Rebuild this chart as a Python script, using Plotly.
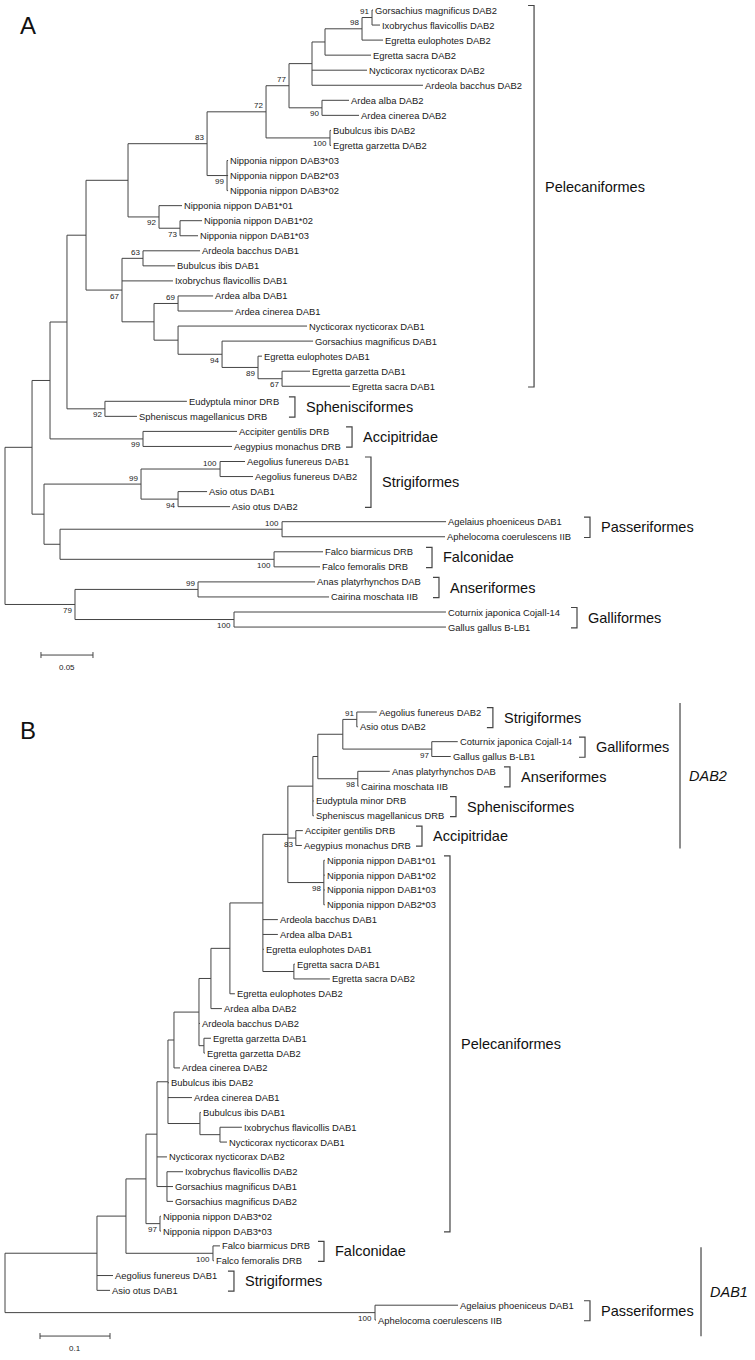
import plotly.graph_objects as go

# ======================= DATA =======================
# Panel A: neighbour-joining tree, branches as (node, parent, length in substitutions/site)
A_BRANCHES = [
    ("a1", "R", 0.026), ("a2", "a1", 0.0173), ("a3", "a2", 0.0163), ("a4", "a3", 0.0183),
    ("a5", "a4", 0.0404), ("a6", "a5", 0.076), ("a7", "a6", 0.0567), ("a8", "a7", 0.0221),
    ("a9", "a8", 0.0221), ("a10", "a9", 0.0125), ("a11", "a10", 0.0356), ("a12", "a11", 0.0096),
    ("Gorsachius magnificus DAB2", "a12", 0.001), ("Ixobrychus flavicollis DAB2", "a12", 0.0077),
    ("Egretta eulophotes DAB2", "a11", 0.0202), ("Egretta sacra DAB2", "a10", 0.0442),
    ("Nycticorax nycticorax DAB2", "a9", 0.0529), ("Ardeola bacchus DAB2", "a9", 0.1067),
    ("a13", "a8", 0.0317), ("Ardea alba DAB2", "a13", 0.026), ("Ardea cinerea DAB2", "a13", 0.0356),
    ("a14", "a7", 0.0615), ("Bubulcus ibis DAB2", "a14", 0.001), ("Egretta garzetta DAB2", "a14", 0.001),
    ("a15", "a6", 0.0192), ("Nipponia nippon DAB3*03", "a15", 0.001),
    ("Nipponia nippon DAB2*03", "a15", 0.001), ("Nipponia nippon DAB3*02", "a15", 0.001),
    ("a16", "a5", 0.0298), ("Nipponia nippon DAB1*01", "a16", 0.0221), ("a17", "a16", 0.0202),
    ("Nipponia nippon DAB1*02", "a17", 0.0212), ("Nipponia nippon DAB1*03", "a17", 0.0173),
    ("a18", "a4", 0.0346), ("a19", "a18", 0.0202), ("Ardeola bacchus DAB1", "a19", 0.0548),
    ("Bubulcus ibis DAB1", "a19", 0.0308), ("Ixobrychus flavicollis DAB1", "a18", 0.049),
    ("a20", "a18", 0.0308), ("a21", "a20", 0.0231), ("Ardea alba DAB1", "a21", 0.0337),
    ("Ardea cinerea DAB1", "a21", 0.0529), ("a22", "a20", 0.0231),
    ("Nycticorax nycticorax DAB1", "a22", 0.124), ("a23", "a22", 0.0423),
    ("Gorsachius magnificus DAB1", "a23", 0.0875), ("a24", "a23", 0.0346),
    ("Egretta eulophotes DAB1", "a24", 0.0038), ("a25", "a24", 0.0231),
    ("Egretta garzetta DAB1", "a25", 0.0269), ("Egretta sacra DAB1", "a25", 0.0654),
    ("a26", "a3", 0.0365), ("Eudyptula minor DRB", "a26", 0.0788),
    ("Spheniscus magellanicus DRB", "a26", 0.0308),
    ("a27", "a2", 0.0894), ("Accipiter gentilis DRB", "a27", 0.0904), ("Aegypius monachus DRB", "a27", 0.0856),
    ("a28", "a1", 0.0115), ("a29", "a28", 0.0933), ("a30", "a29", 0.076),
    ("Aegolius funereus DAB1", "a30", 0.024), ("Aegolius funereus DAB2", "a30", 0.0317),
    ("a31", "a29", 0.0356), ("Asio otus DAB1", "a31", 0.0279), ("Asio otus DAB2", "a31", 0.05),
    ("a32", "a28", 0.0154), ("a33", "a32", 0.2135), ("Agelaius phoeniceus DAB1", "a33", 0.1577),
    ("Aphelocoma coerulescens IIB", "a33", 0.1567), ("a34", "a32", 0.2058),
    ("Falco biarmicus DRB", "a34", 0.0471), ("Falco femoralis DRB", "a34", 0.0442),
    ("a35", "R", 0.0673), ("a36", "a35", 0.1183), ("Anas platyrhynchos DAB", "a36", 0.1125),
    ("Cairina moschata IIB", "a36", 0.126), ("a37", "a35", 0.1529),
    ("Coturnix japonica Cojall-14", "a37", 0.2038), ("Gallus gallus B-LB1", "a37", 0.2038),
]
A_SUPPORT_NODES = ["a6", "a7", "a8", "a11", "a12", "a13", "a14", "a15", "a16", "a17", "a18", "a19",
                   "a21", "a23", "a24", "a25", "a26", "a27", "a29", "a30", "a31", "a33", "a34",
                   "a35", "a36", "a37"]
A_SUPPORT_VALUES = [83, 72, 77, 98, 91, 90, 100, 99, 92, 73, 67, 63,
                    69, 94, 89, 67, 92, 99, 99, 100, 94, 100, 100,
                    79, 99, 100]
A_CLADES = [
    ("Pelecaniformes", "Gorsachius magnificus DAB2", "Egretta sacra DAB1"),
    ("Sphenisciformes", "Eudyptula minor DRB", "Spheniscus magellanicus DRB"),
    ("Accipitridae", "Accipiter gentilis DRB", "Aegypius monachus DRB"),
    ("Strigiformes", "Aegolius funereus DAB1", "Asio otus DAB2"),
    ("Passeriformes", "Agelaius phoeniceus DAB1", "Aphelocoma coerulescens IIB"),
    ("Falconidae", "Falco biarmicus DRB", "Falco femoralis DRB"),
    ("Anseriformes", "Anas platyrhynchos DAB", "Cairina moschata IIB"),
    ("Galliformes", "Coturnix japonica Cojall-14", "Gallus gallus B-LB1"),
]
A_SCALE = 0.05

# Panel B
B_BRANCHES = [
    ("b1", "R", 0.1314), ("b2", "b1", 0.0414), ("b3", "b2", 0.0286), ("b4", "b3", 0.0157),
    ("b5", "b4", 0.0157), ("b6", "b5", 0.0086), ("b7", "b6", 0.0357), ("b8", "b7", 0.0171),
    ("b9", "b8", 0.0271), ("b10", "b9", 0.0471), ("b11", "b10", 0.0357), ("b12", "b11", 0.0357),
    ("b13", "b12", 0.0071), ("b14", "b13", 0.0357), ("b15", "b14", 0.02),
    ("Aegolius funereus DAB2", "b15", 0.0286), ("Asio otus DAB2", "b15", 0.0014),
    ("b16", "b14", 0.1271), ("Coturnix japonica Cojall-14", "b16", 0.0371),
    ("Gallus gallus B-LB1", "b16", 0.0271),
    ("b17", "b13", 0.0571), ("Anas platyrhynchos DAB", "b17", 0.0457), ("Cairina moschata IIB", "b17", 0.0014),
    ("Eudyptula minor DRB", "b12", 0.0014), ("Spheniscus magellanicus DRB", "b12", 0.0014),
    ("b18", "b11", 0.0114), ("Accipiter gentilis DRB", "b18", 0.01), ("Aegypius monachus DRB", "b18", 0.0086),
    ("b19", "b11", 0.0514), ("Nipponia nippon DAB1*01", "b19", 0.0014),
    ("Nipponia nippon DAB1*02", "b19", 0.0014), ("Nipponia nippon DAB1*03", "b19", 0.0014),
    ("Nipponia nippon DAB2*03", "b19", 0.0014),
    ("Ardeola bacchus DAB1", "b10", 0.0214), ("Ardea alba DAB1", "b10", 0.0214),
    ("Egretta eulophotes DAB1", "b10", 0.0014), ("b20", "b10", 0.0443),
    ("Egretta sacra DAB1", "b20", 0.0014), ("Egretta sacra DAB2", "b20", 0.0514),
    ("Egretta eulophotes DAB2", "b9", 0.0071), ("Ardea alba DAB2", "b8", 0.0157),
    ("Ardeola bacchus DAB2", "b7", 0.0014), ("b21", "b7", 0.0071),
    ("Egretta garzetta DAB1", "b21", 0.01), ("Egretta garzetta DAB2", "b21", 0.0014),
    ("Ardea cinerea DAB2", "b6", 0.0086), ("Bubulcus ibis DAB2", "b5", 0.0014),
    ("Ardea cinerea DAB1", "b5", 0.0343), ("b22", "b5", 0.0457),
    ("Bubulcus ibis DAB1", "b22", 0.0014), ("b23", "b22", 0.0286),
    ("Ixobrychus flavicollis DAB1", "b23", 0.0314), ("Nycticorax nycticorax DAB1", "b23", 0.01),
    ("Nycticorax nycticorax DAB2", "b4", 0.0143), ("b24", "b4", 0.0143),
    ("Ixobrychus flavicollis DAB2", "b24", 0.0229), ("Gorsachius magnificus DAB1", "b24", 0.0086),
    ("Gorsachius magnificus DAB2", "b24", 0.0086),
    ("b25", "b3", 0.02), ("Nipponia nippon DAB3*02", "b25", 0.0014), ("Nipponia nippon DAB3*03", "b25", 0.0014),
    ("b26", "b2", 0.1243), ("Falco biarmicus DRB", "b26", 0.01), ("Falco femoralis DRB", "b26", 0.0014),
    ("Aegolius funereus DAB1", "b1", 0.0229), ("Asio otus DAB1", "b1", 0.0186),
    ("b27", "R", 0.5286), ("Agelaius phoeniceus DAB1", "b27", 0.1186),
    ("Aphelocoma coerulescens IIB", "b27", 0.0014),
]
B_SUPPORT_NODES = ["b15", "b16", "b17", "b18", "b19", "b25", "b26", "b27"]
B_SUPPORT_VALUES = [91, 97, 98, 83, 98, 97, 100, 100]
B_CLADES = [
    ("Strigiformes", "Aegolius funereus DAB2", "Asio otus DAB2"),
    ("Galliformes", "Coturnix japonica Cojall-14", "Gallus gallus B-LB1"),
    ("Anseriformes", "Anas platyrhynchos DAB", "Cairina moschata IIB"),
    ("Sphenisciformes", "Eudyptula minor DRB", "Spheniscus magellanicus DRB"),
    ("Accipitridae", "Accipiter gentilis DRB", "Aegypius monachus DRB"),
    ("Pelecaniformes", "Nipponia nippon DAB1*01", "Nipponia nippon DAB3*03"),
    ("Falconidae", "Falco biarmicus DRB", "Falco femoralis DRB"),
    ("Strigiformes", "Aegolius funereus DAB1", "Asio otus DAB1"),
    ("Passeriformes", "Agelaius phoeniceus DAB1", "Aphelocoma coerulescens IIB"),
]
B_GROUPS = [
    ("DAB2", "Aegolius funereus DAB2", "Aegypius monachus DRB"),
    ("DAB1", "Falco biarmicus DRB", "Aphelocoma coerulescens IIB"),
]
B_SCALE = 0.1

# ======================= STYLE / LAYOUT =======================
W, H = 755, 1360
FONT = "Arial, Liberation Sans, sans-serif"
LINE = "#444444"
TXT = "#1a1a1a"
LEAF_FS = 9.4
BOOT_FS = 8
CLADE_FS = 14.5

PANELS = {
    "A": dict(ppu=1040.0, root_px=5.0, row_px=15.05, first_row_px=10.0, top_px=0, h_px=680,
              xa="x", ya="y"),
    "B": dict(ppu=700.0, root_px=5.0, row_px=14.83, first_row_px=32.0, top_px=680, h_px=680,
              xa="x2", ya="y2"),
}
A_SUPPORT_ABOVE = [1, 1, 1, 1, 1, 0, 0, 0, 0, 0, 0, 1, 1, 0, 0, 0, 0, 0, 1, 1, 0, 1, 0, 0, 1, 0]
B_SUPPORT_ABOVE = [1, 0, 0, 0, 0, 0, 0, 0]
A_CLADE_X = [0.5087, 0.2788, 0.3337, 0.3519, 0.5625, 0.4106, 0.4173, 0.55]
A_CLADE_LABEL_DY = [-0.6, 0, 0, 0, 0, 0, 0, 0]
B_CLADE_X = [0.697, 0.8286, 0.7214, 0.6443, 0.5957, 0.6357, 0.4557, 0.3271, 0.8357]
B_GROUP_X = [0.9643, 0.9943]
B_GROUP_PAD = [(-0.6, 0.2), (0.1, 1.1)]
A_SCALE_POS = (0.0346, 42.86)
B_SCALE_POS = (0.05, 42.08)


def layout_tree(branches):
    children, length = {}, {}
    for c, p, l in branches:
        children.setdefault(p, []).append(c)
        length[c] = l
    x, y, leaves = {"R": 0.0}, {}, []

    def walk(n):
        kids = children.get(n, [])
        for k in kids:
            x[k] = x[n] + length[k]
            walk(k)
        if kids:
            y[n] = (y[kids[0]] + y[kids[-1]]) / 2.0
        else:
            y[n] = float(len(leaves))
            leaves.append(n)

    walk("R")
    return x, y, leaves, children


fig = go.Figure()
annotations = []
shapes = []


def add_panel(key, branches, sup_nodes, sup_vals, sup_above, clades, clade_x, clade_dy,
              scale_len, scale_pos, groups=None, group_x=None, group_pad=None):
    P = PANELS[key]
    xa, ya = P["xa"], P["ya"]
    x, y, leaves, children = layout_tree(branches)
    xs, ys = [], []
    for n, kids in children.items():
        xs += [x[n], x[n], None]
        ys += [y[kids[0]], y[kids[-1]], None]
        for k in kids:
            xs += [x[n], x[k], None]
            ys += [y[k], y[k], None]
    fig.add_trace(go.Scatter(x=xs, y=ys, mode="lines", xaxis=xa, yaxis=ya,
                             line=dict(color=LINE, width=1), hoverinfo="skip", showlegend=False))
    for lf in leaves:
        annotations.append(dict(x=x[lf], y=y[lf], xref=xa, yref=ya, text=lf, showarrow=False,
                                xanchor="left", yanchor="middle", xshift=0,
                                font=dict(size=LEAF_FS, color=TXT, family=FONT)))
    for n, v, ab in zip(sup_nodes, sup_vals, sup_above):
        annotations.append(dict(x=x[n], y=y[n], xref=xa, yref=ya, text=str(v), showarrow=False,
                                xanchor="right", yanchor="middle", xshift=-1,
                                yshift=6 if ab else -6,
                                font=dict(size=BOOT_FS, color=TXT, family=FONT)))
    tick = 6.0 / P["ppu"]
    for (name, f, l), bx, dy in zip(clades, clade_x, clade_dy):
        y0, y1 = y[f] - 0.3, y[l] + 0.05
        shapes.append(dict(type="path", xref=xa, yref=ya,
                           path=f"M {bx - tick} {y0} L {bx} {y0} L {bx} {y1} L {bx - tick} {y1}",
                           line=dict(color=LINE, width=1.2)))
        annotations.append(dict(x=bx, y=(y0 + y1) / 2 + dy, xref=xa, yref=ya, text=name,
                                showarrow=False, xanchor="left", yanchor="middle", xshift=9,
                                font=dict(size=CLADE_FS, color="#111111", family=FONT)))
    if groups:
        for (name, f, l), gx, (pt, pb) in zip(groups, group_x, group_pad):
            y0, y1 = y[f] + pt, y[l] + pb
            shapes.append(dict(type="line", xref=xa, yref=ya, x0=gx, x1=gx, y0=y0, y1=y1,
                               line=dict(color=LINE, width=1.2)))
            annotations.append(dict(x=gx, y=(y0 + y1) / 2, xref=xa, yref=ya,
                                    text=f"<i>{name}</i>", showarrow=False, xanchor="left",
                                    yanchor="middle", xshift=7,
                                    font=dict(size=CLADE_FS, color="#111111", family=FONT)))
    # scale bar
    sx, sy = scale_pos
    tk = 3.0 / P["row_px"]
    fig.add_trace(go.Scatter(x=[sx, sx + scale_len, None, sx, sx, None, sx + scale_len, sx + scale_len],
                             y=[sy, sy, None, sy - tk, sy + tk, None, sy - tk, sy + tk],
                             mode="lines", xaxis=xa, yaxis=ya, line=dict(color=LINE, width=1),
                             hoverinfo="skip", showlegend=False))
    annotations.append(dict(x=sx + scale_len / 2, y=sy, xref=xa, yref=ya, text=f"{scale_len:g}",
                            showarrow=False, xanchor="center", yanchor="middle", yshift=-12,
                            font=dict(size=BOOT_FS, color=TXT, family=FONT)))


add_panel("A", A_BRANCHES, A_SUPPORT_NODES, A_SUPPORT_VALUES, A_SUPPORT_ABOVE, A_CLADES,
          A_CLADE_X, A_CLADE_LABEL_DY, A_SCALE, A_SCALE_POS)
add_panel("B", B_BRANCHES, B_SUPPORT_NODES, B_SUPPORT_VALUES, B_SUPPORT_ABOVE, B_CLADES,
          B_CLADE_X, [0] * len(B_CLADES), B_SCALE, B_SCALE_POS, B_GROUPS, B_GROUP_X, B_GROUP_PAD)

# panel letters
for letter, px, py in [("A", 28, 25), ("B", 28, 730)]:
    annotations.append(dict(x=px / W, y=1 - py / H, xref="paper", yref="paper", text=letter,
                            showarrow=False, xanchor="center", yanchor="middle",
                            font=dict(size=24, color="#111111", family=FONT)))


def axis_ranges(P):
    x0 = -P["root_px"] / P["ppu"]
    x1 = x0 + W / P["ppu"]
    ytop = -P["first_row_px"] / P["row_px"]
    ybot = ytop + P["h_px"] / P["row_px"]
    dom = [1 - (P["top_px"] + P["h_px"]) / H, 1 - P["top_px"] / H]
    return [x0, x1], [ybot, ytop], dom


xa_r, ya_r, ya_dom = axis_ranges(PANELS["A"])
xb_r, yb_r, yb_dom = axis_ranges(PANELS["B"])
hidden = dict(visible=False, showgrid=False, zeroline=False, fixedrange=True)
fig.update_layout(
    width=W, height=H, margin=dict(l=0, r=0, t=0, b=0),
    paper_bgcolor="white", plot_bgcolor="white", showlegend=False,
    xaxis=dict(domain=[0, 1], range=xa_r, anchor="y", **hidden),
    yaxis=dict(domain=ya_dom, range=ya_r, anchor="x", **hidden),
    xaxis2=dict(domain=[0, 1], range=xb_r, anchor="y2", **hidden),
    yaxis2=dict(domain=yb_dom, range=yb_r, anchor="x2", **hidden),
    annotations=annotations, shapes=shapes,
)
fig.write_html("out.html", config={"displayModeBar": False},
               post_script="document.body.style.margin='0px';document.body.style.overflow='hidden';")
